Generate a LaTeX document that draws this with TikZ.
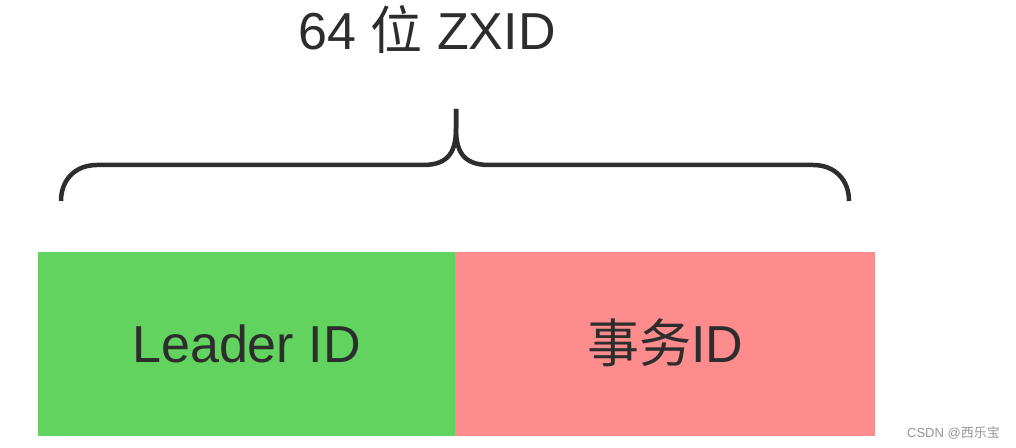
\documentclass[tikz,border=0pt]{standalone}
\usepackage{fontspec}
\setmainfont{Liberation Sans}
\newfontfamily\cjk{Noto Sans CJK SC}
\definecolor{fieldgreen}{RGB}{98,211,94}
\definecolor{fieldred}{RGB}{255,140,140}
\definecolor{inkgray}{RGB}{45,45,45}
\definecolor{markgray}{RGB}{150,150,150}
\begin{document}
\begin{tikzpicture}[x=1bp,y=-1bp,
  field/.style={draw=none,inner sep=0pt,outer sep=0pt,minimum height=184bp,
    text height=37.4bp,text depth=0pt,text=inkgray,
    font=\fontsize{52bp}{60bp}\selectfont},
  bracepath/.style={draw=inkgray,line width=4.5bp},
  titletext/.style={inner sep=0pt,anchor=base,text=inkgray,font=\fontsize{52bp}{60bp}\selectfont}
]
\useasboundingbox (0,0) rectangle (1016,448);
\node[field,fill=fieldgreen,minimum width=417bp] (leader) at (246.5,344) {Leader ID};
\node[field,fill=fieldred,minimum width=420bp] (tx) at (665,344) {{\cjk 事务}ID};
\node[titletext] (title) at (427,50) {64 {\cjk 位} ZXID};
\coordinate (bl) at (61,201);
\coordinate (tip) at (456,109);
\coordinate (br) at (849,201);
\draw[bracepath] (bl) .. controls (61,180) and (75,165) .. (97,165)
  -- (423,165) .. controls (450,165) and (456,150) .. (456,128) -- (tip);
\draw[bracepath] (tip) -- (456,128) .. controls (456,150) and (462,165) .. (489,165)
  -- (813,165) .. controls (835,165) and (849,180) .. (br);
\node[inner sep=0pt,anchor=base east,text=markgray,font=\fontsize{13bp}{15bp}\selectfont] (mark) at (1000,437) {CSDN @{\cjk 西乐宝}};
\end{tikzpicture}
\end{document}
